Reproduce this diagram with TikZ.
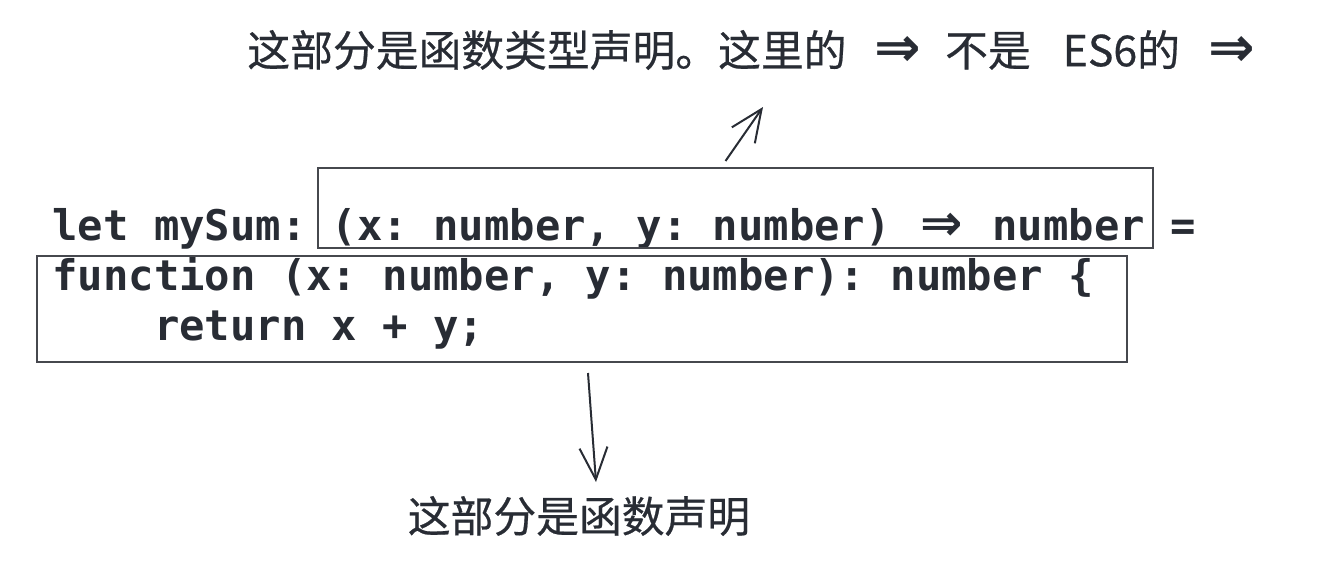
\documentclass[tikz,border=0pt]{standalone}
\usepackage{fontspec}
\usepackage{graphicx}
\setmonofont{DejaVu Sans Mono}
\newfontfamily\cjk[FakeBold=0.5]{Noto Sans CJK SC}
\newfontfamily\arrowfont{DejaVu Sans}
\usetikzlibrary{arrows.meta,fit}
\definecolor{ink}{RGB}{40,44,52}
\definecolor{pen}{RGB}{70,72,78}
\newcommand{\fatarrow}[1][1.2]{\scalebox{#1}{\arrowfont\bfseries ⇒}}
\newcommand{\codearrow}{\makebox[1.204em][c]{\fatarrow}}
\newcommand{\gap}[1][14pt]{\hspace{#1}}

\begin{document}
\begin{tikzpicture}[x=0.5pt,y=-0.5pt,
  code/.style={anchor=base west,inner sep=0pt,text=ink,
    font=\ttfamily\bfseries\fontsize{21.1}{25}\selectfont},
  note/.style={inner sep=0pt,text=ink,font=\cjk\fontsize{21.4}{26}\selectfont},
  frame/.style={draw=pen,line width=1pt,inner sep=0pt},
  hint/.style={draw=ink,line width=1pt,
    -{Straight Barb[length=16pt,width=14pt]}}]
\useasboundingbox (0,0) rectangle (1329,573);
\node [code] (sig) at (52,240) {let mySum: (x: number, y: number) \codearrow{} number =};
\node [code] (head) at (52,290) {function (x: number, y: number): number \{};
\node [code] (body) at (52,340) {\phantom{xxxx}return x + y;};
\node [frame,fit={(318,168) (1153,248)}] (typebox) {};
\node [frame,fit={(37,256) (1127,362)}] (fnbox) {};
\node [note] (typenote) at (751,50)
   {这部分是函数类型声明。这里的\gap\fatarrow[1.3]\gap[12pt]不是\gap[16pt]ES6的\gap\fatarrow[1.3]};
\node [note] (fnnote) at (579,516) {这部分是函数声明};
\coordinate (up) at (763,107);
\coordinate (down) at (596,482);
\draw [hint] ([xshift=-5pt,yshift=3pt]typebox.north) -- (up);
\draw [hint] ([xshift=3pt,yshift=-5pt]fnbox.south) -- (down);
\end{tikzpicture}
\end{document}
